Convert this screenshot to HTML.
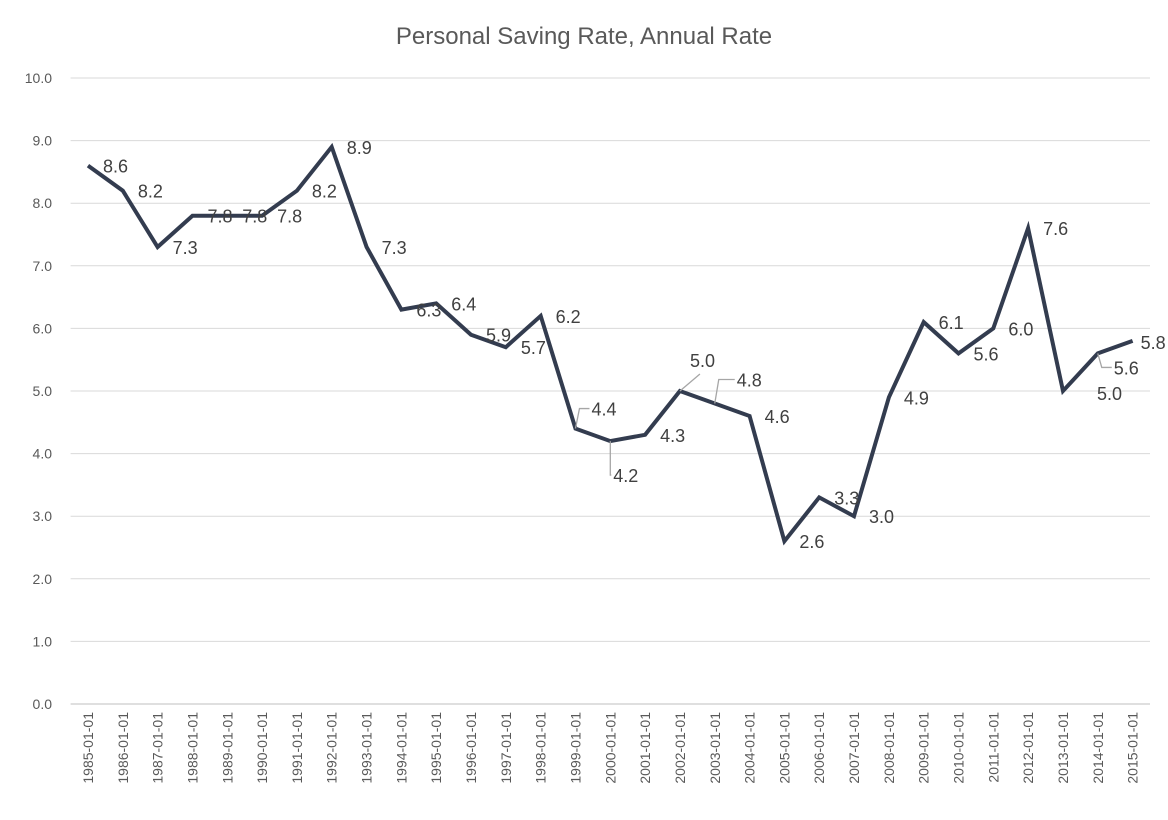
<!DOCTYPE html>
<html><head><meta charset="utf-8"><style>
body{margin:0;background:#fff;font-family:"Liberation Sans",Calibri,sans-serif;}
svg text{font-family:"Liberation Sans",sans-serif;}
</style></head><body>
<svg id="chart" width="1168" height="815" xmlns="http://www.w3.org/2000/svg">
<rect width="1168" height="815" fill="#fff"/>
<text x="584" y="44" text-anchor="middle" font-size="24" fill="#595959">Personal Saving Rate, Annual Rate</text>
<g id="grid"></g><g id="yticks"></g><g id="xticks"></g><g id="series"></g><g id="labels"></g>
</svg>
<script>
const categories=["1985-01-01","1986-01-01","1987-01-01","1988-01-01","1989-01-01","1990-01-01","1991-01-01","1992-01-01","1993-01-01","1994-01-01","1995-01-01","1996-01-01","1997-01-01","1998-01-01","1999-01-01","2000-01-01","2001-01-01","2002-01-01","2003-01-01","2004-01-01","2005-01-01","2006-01-01","2007-01-01","2008-01-01","2009-01-01","2010-01-01","2011-01-01","2012-01-01","2013-01-01","2014-01-01","2015-01-01"];
const values=[8.6,8.2,7.3,7.8,7.8,7.8,8.2,8.9,7.3,6.3,6.4,5.9,5.7,6.2,4.4,4.2,4.3,5.0,4.8,4.6,2.6,3.3,3.0,4.9,6.1,5.6,6.0,7.6,5.0,5.6,5.8];
const yTicks=[0,1,2,3,4,5,6,7,8,9,10];
const NS="http://www.w3.org/2000/svg";
const L=70.6,R=1150,T=78,B=704,yMax=10;
const bw=(R-L)/categories.length;
const x=i=>L+bw*(i+0.5);
const y=v=>B-(v/yMax)*(B-T);
function mk(tag,attrs,parent){const e=document.createElementNS(NS,tag);for(const k in attrs)e.setAttribute(k,attrs[k]);parent.appendChild(e);return e;}
const grid=document.getElementById('grid'),yt=document.getElementById('yticks'),xt=document.getElementById('xticks'),ser=document.getElementById('series'),lab=document.getElementById('labels');
yTicks.forEach(t=>{
 const ln=mk('line',{x1:L,x2:R,y1:y(t),y2:y(t),stroke:t===0?'#bfbfbf':'#d9d9d9','stroke-width':1},grid);
 
 
 const tx=mk('text',{x:52,y:y(t)+5,'text-anchor':'end','font-size':14,fill:'#595959'},yt);
 tx.textContent=t.toFixed(1);
 
 
});
categories.forEach((c,i)=>{
 const tx=mk('text',{transform:`translate(${x(i)+5},712) rotate(-90)`,'text-anchor':'end','font-size':14,fill:'#595959'},xt);
 tx.textContent=c;
 
 
});
const pts=values.map((v,i)=>x(i).toFixed(1)+','+y(v).toFixed(1)).join(' ');
const pl=mk('polyline',{points:pts,fill:'none',stroke:'#333c4f','stroke-width':4,'stroke-linejoin':'miter'},ser);


const over={14:[16,-20,1],15:[3,34,1],17:[10,-31,2],18:[22,-24,1],28:[34,2,0],29:[16,14,1],30:[8,1,0]};
values.forEach((v,i)=>{
 const px=x(i),py=y(v);
 let dx=15,dy=0,lead=0;
 if(over[i]){[dx,dy,lead]=over[i];}
 if(lead===1){
  const ld=mk('polyline',{points:`${px},${py} ${px+(dx>8?4:0)},${py+dy} ${px+dx-2},${py+dy}`,fill:'none',stroke:'#a6a6a6','stroke-width':1.3},lab);
  
  
 } else if(lead===2){
  const ld=mk('line',{x1:px,y1:py,x2:px+dx+10,y2:py+dy+14,stroke:'#a6a6a6','stroke-width':1.3},lab);
  
  
 }
 const tx=mk('text',{x:px+dx,y:py+dy+7,'font-size':18,fill:'#404040'},lab);
 tx.textContent=v.toFixed(1);
 
 
});
</script>
</body></html>
